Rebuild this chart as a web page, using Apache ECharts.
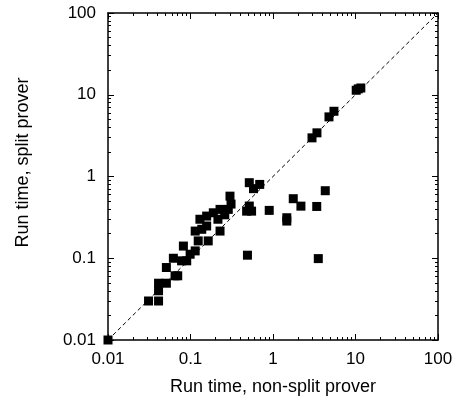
<!DOCTYPE html>
<html>
<head>
<meta charset="utf-8">
<script src="https://cdn.jsdelivr.net/npm/echarts@6/dist/echarts.min.js"></script>
<style>
  html, body { margin: 0; padding: 0; background: #fff; }
  #scatterDiv { width: 457px; height: 401px; background: #fff; }
</style>
</head>
<body>
<div id="scatterDiv"></div>
<script>
// run times (seconds): non-split prover on x, split prover on y
var nonSplitTime = [
  0.01, 0.031, 0.041, 0.041, 0.041, 0.051, 0.051, 0.065, 0.07, 0.062,
  0.082, 0.078, 0.09, 0.099, 0.114, 0.124, 0.114, 0.137, 0.13, 0.157,
  0.157, 0.164, 0.189, 0.228, 0.228, 0.287, 0.301, 0.31, 0.26, 0.215,
  0.479, 0.55, 0.49, 0.516, 0.516, 0.58, 0.69, 0.9, 1.47, 1.47,
  1.76, 2.18, 3.39, 4.3, 3.54, 2.97, 3.41, 4.77, 5.48, 10.2,
  10.8, 11.6
];
var splitTime = [
  0.01, 0.03, 0.03, 0.04, 0.0495, 0.0495, 0.077, 0.061, 0.061, 0.1,
  0.141, 0.093, 0.093, 0.112, 0.123, 0.163, 0.215, 0.226, 0.3, 0.328,
  0.248, 0.163, 0.36, 0.396, 0.215, 0.396, 0.575, 0.46, 0.34, 0.3,
  0.377, 0.377, 0.109, 0.84, 0.435, 0.71, 0.8, 0.385, 0.313, 0.285,
  0.535, 0.434, 0.43, 0.67, 0.099, 2.97, 3.42, 5.36, 6.28, 11.35,
  11.8, 12.1
];
// y = x reference line
var diagonal = [[0.01, 0.01], [100, 100]];

var majorTicks = [0.01, 0.1, 1, 10, 100];

var points = nonSplitTime.map(function (x, i) { return [x, splitTime[i]]; });

var chart = echarts.init(document.getElementById('scatterDiv'));
var fontFam = 'Liberation Sans, Arial, sans-serif';

// one log axis per side of the box, ticks pointing inwards
function logAxis(pos) {
  return {
    type: 'log',
    logBase: 10,
    min: 0.01,
    max: 100,
    position: pos,
    axisLine: { show: true, onZero: false, lineStyle: { color: '#000', width: 1.5 } },
    axisTick: { show: true, inside: true, length: 6, customValues: majorTicks, lineStyle: { color: '#000' } },
    minorTick: { show: true, splitNumber: 9, length: 3, lineStyle: { color: '#000' } },
    splitLine: { show: false },
    minorSplitLine: { show: false },
    axisLabel: { show: false }
  };
}

var xBottom = logAxis('bottom');
xBottom.axisLabel = { show: true, color: '#000', fontSize: 17, fontFamily: fontFam, margin: 11 };
xBottom.name = 'Run time, non-split prover';
xBottom.nameLocation = 'middle';
xBottom.nameGap = 38;
xBottom.nameTextStyle = { color: '#000', fontSize: 18, fontFamily: fontFam };

var yLeft = logAxis('left');
yLeft.axisLabel = { show: true, color: '#000', fontSize: 17, fontFamily: fontFam, margin: 12 };
yLeft.name = 'Run time, split prover';
yLeft.nameLocation = 'middle';
yLeft.nameGap = 76;
yLeft.nameTextStyle = { color: '#000', fontSize: 18, fontFamily: fontFam, padding: [0, 0, 0, 28] };

var option = {
  animation: false,
  grid: { left: 108, right: 19, top: 13, bottom: 60 },
  xAxis: [xBottom, logAxis('top')],
  yAxis: [yLeft, logAxis('right')],
  series: [
    {
      type: 'scatter',
      data: points,
      symbol: 'rect',
      symbolSize: 9,
      itemStyle: { color: '#000', opacity: 1 },
      markLine: {
        silent: true,
        symbol: 'none',
        label: { show: false },
        lineStyle: { color: '#000', width: 1, type: [4, 3] },
        data: [[{ coord: diagonal[0] }, { coord: diagonal[1] }]]
      }
    }
  ]
};

chart.setOption(option);
window.onresize = chart.resize;
</script>
</body>
</html>
